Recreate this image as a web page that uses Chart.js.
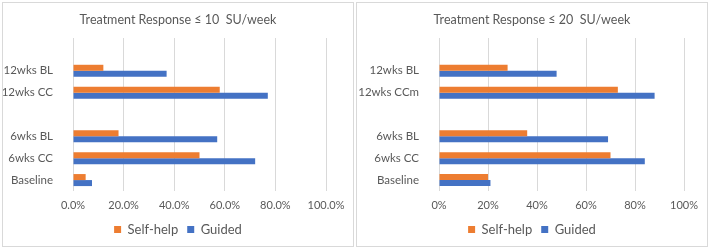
<!DOCTYPE html>
<html>
<head>
<meta charset="utf-8">
<script src="https://cdn.jsdelivr.net/npm/chart.js@4"></script>
<style>
  body { margin: 0; background: #fff; width: 710px; height: 250px; position: relative; overflow: hidden; }
  .panel { position: absolute; top: 2px; width: 350px; height: 243px; border: 1px solid #d9d9d9; }
  #p1 { left: 2px; }
  #p2 { left: 356px; }
</style>
</head>
<body>
<div class="panel" id="p1"><canvas id="c1" width="350" height="243"></canvas></div>
<div class="panel" id="p2"><canvas id="c2" width="350" height="243"></canvas></div>
<script>
// Categorie (dall'alto verso il basso), le righe vuote sono spazi nel grafico
const labels10 = ['', '12wks BL', '12wks CC', '', '6wks BL', '6wks CC', 'Baseline'];
const labels20 = ['', '12wks BL', '12wks CCm', '', '6wks BL', '6wks CC', 'Baseline'];

// Valori in percentuale
const selfHelp10 = [null, 12, 58, null, 18, 50, 5];
const guided10 = [null, 37, 77, null, 57, 72, 7.5];
const selfHelp20 = [null, 28, 73, null, 36, 70, 20];
const guided20 = [null, 48, 88, null, 69, 84, 21];

const xTicks = [0, 20, 40, 60, 80, 100];

const ORANGE = '#ED7D31';
const BLUE = '#4472C4';
const TEXT = '#595959';
const FONT = 'Lato, "Open Sans", sans-serif';

function makeChart(canvasId, title, labels, selfHelp, guided, decimals, axisWidth, padRight) {
    return new Chart(document.getElementById(canvasId).getContext('2d'), {
        type: 'bar',
        data: {
            labels: labels,
            datasets: [{
                label: 'Self-help',
                data: selfHelp,
                backgroundColor: ORANGE,
                categoryPercentage: 0.55,
                barPercentage: 1.0
            }, {
                label: 'Guided',
                data: guided,
                backgroundColor: BLUE,
                categoryPercentage: 0.55,
                barPercentage: 1.0
            }]
        },
        options: {
            indexAxis: 'y',
            responsive: false,
            animation: false,
            layout: { padding: 0 },
            plugins: {
                title: {
                    display: true,
                    text: title,
                    color: TEXT,
                    font: { family: FONT, size: 12.5, weight: 'normal' },
                    padding: { top: 9, bottom: 11 }
                },
                legend: {
                    position: 'bottom',
                    labels: {
                        color: TEXT,
                        font: { family: FONT, size: 13 },
                        boxWidth: 7,
                        boxHeight: 7,
                        padding: 9
                    }
                },
                tooltip: { enabled: false }
            },
            scales: {
                x: {
                    min: 0,
                    max: 100,
                    afterBuildTicks: (scale) => {
                        scale.ticks = xTicks.map(v => ({ value: v }));
                    },
                    afterFit: (scale) => { scale.height = 23; },
                    ticks: {
                        color: TEXT,
                        font: { family: FONT, size: 11 },
                        padding: 8,
                        callback: (v) => v.toFixed(decimals) + '%'
                    },
                    grid: { color: '#d9d9d9', drawTicks: false },
                    border: { display: false }
                },
                y: {
                    afterFit: (scale) => { scale.width = axisWidth; },
                    ticks: {
                        color: TEXT,
                        font: { family: FONT, size: 11.5 },
                        padding: 12,
                        autoSkip: false
                    },
                    grid: { display: false },
                    border: { display: false }
                },
                // asse vuoto a destra, serve solo a lasciare spazio
                spacer: {
                    type: 'linear',
                    position: 'right',
                    afterFit: (scale) => { scale.width = padRight; },
                    ticks: { display: false },
                    grid: { display: false },
                    border: { display: false }
                }
            }
        }
    });
}

makeChart('c1', 'Treatment Response \u2264 10  SU/week', labels10, selfHelp10, guided10, 1, 70, 27);
makeChart('c2', 'Treatment Response \u2264 20  SU/week', labels20, selfHelp20, guided20, 0, 82, 23);
</script>
</body>
</html>
